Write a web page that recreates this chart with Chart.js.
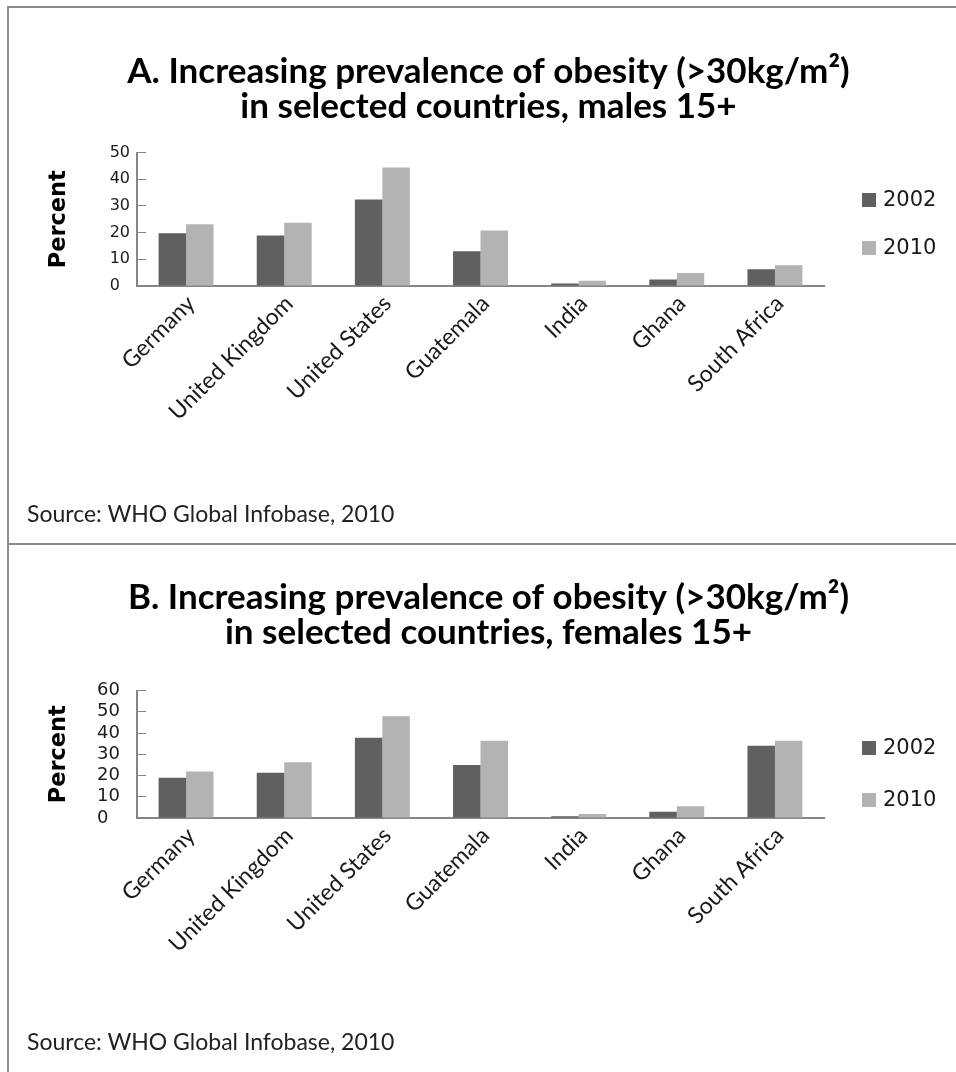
<!DOCTYPE html>
<html>
<head>
<meta charset="utf-8">
<script src="https://cdn.jsdelivr.net/npm/chart.js@4.4.1/dist/chart.umd.min.js"></script>
<style>
  html, body { margin: 0; padding: 0; background: #fff; overflow: hidden; width: 956px; height: 1072px; }
  .panel { position: absolute; left: 7px; width: 962px; border-left: 2px solid #8a8a8a; border-top: 2px solid #8a8a8a; }
  #panelA { top: 6px; height: 535px; }
  #panelB { top: 543px; height: 527px; }
  .panel canvas { position: absolute; left: 0; top: 0; }
  .source { position: absolute; left: 18px; font-family: Lato, sans-serif; font-size: 23px; line-height: 26px; color: #222; white-space: nowrap; }
</style>
</head>
<body>
<div class="panel" id="panelA">
  <canvas id="chartA" width="959" height="535"></canvas>
  <div class="source" style="top:492px">Source: WHO Global Infobase, 2010</div>
</div>
<div class="panel" id="panelB">
  <canvas id="chartB" width="959" height="527"></canvas>
  <div class="source" style="top:483px">Source: WHO Global Infobase, 2010</div>
</div>
<script>
// Obesity prevalence (%), WHO Global Infobase
const countries = ['Germany', 'United Kingdom', 'United States', 'Guatemala', 'India', 'Ghana', 'South Africa'];
const years = ['2002', '2010'];
const males2002 = [19.8, 18.9, 32.4, 13.0, 0.9, 2.4, 6.3];
const males2010 = [23.1, 23.7, 44.4, 20.8, 2.0, 4.9, 7.8];
const females2002 = [18.9, 21.3, 37.8, 24.9, 0.8, 3.0, 34.0];
const females2010 = [21.9, 26.2, 47.9, 36.4, 1.9, 5.5, 36.4];
const malesTicks = [0, 10, 20, 30, 40, 50];
const femalesTicks = [0, 10, 20, 30, 40, 50, 60];
const titleA = ['A. Increasing prevalence of obesity (>30kg/m²)', 'in selected countries, males 15+'];
const titleB = ['B. Increasing prevalence of obesity (>30kg/m²)', 'in selected countries, females 15+'];

const DARK = '#606060';
const LIGHT = '#b3b3b3';
const AXIS = '#868686';

// Legend column on the right: reserves a layout box (so the title stays
// centred on the whole canvas) and draws one square + label per dataset.
const sideLegend = {
  id: 'sideLegend',
  beforeInit(chart, args, opts) {
    const box = {
      position: 'right', weight: 0, fullSize: false, options: {},
      width: 0, height: 0, left: 0, top: 0, right: 0, bottom: 0,
      isHorizontal() { return false; },
      update(maxWidth, maxHeight) { this.width = opts.width; this.height = maxHeight; },
      draw() {}
    };
    Chart.layouts.addBox(chart, box);
  },
  afterDraw(chart, args, opts) {
    const { ctx, chartArea } = chart;
    ctx.save();
    ctx.font = opts.font;
    ctx.textBaseline = 'middle';
    ctx.textAlign = 'left';
    chart.data.datasets.forEach((ds, i) => {
      const cy = chartArea.top + opts.first + i * opts.spacing;
      const x = chartArea.right + opts.gap;
      ctx.fillStyle = ds.backgroundColor;
      ctx.fillRect(x, Math.round(cy - opts.box / 2), opts.box, opts.box);
      ctx.fillStyle = opts.color;
      ctx.fillText(ds.label, x + opts.box + opts.textGap, cy + 1);
    });
    ctx.restore();
  }
};

function makeChart(id, title, s2002, s2010, ticks, cfg) {
  return new Chart(document.getElementById(id), {
    type: 'bar',
    data: {
      labels: countries,
      datasets: [
        { label: years[0], data: s2002, backgroundColor: DARK },
        { label: years[1], data: s2010, backgroundColor: LIGHT }
      ]
    },
    plugins: [sideLegend],
    options: {
      responsive: false,
      animation: false,
      devicePixelRatio: 1,
      layout: { padding: 0 },
      datasets: { bar: { barPercentage: 1.0, categoryPercentage: 0.56 } },
      plugins: {
        legend: { display: false },
        tooltip: { enabled: false },
        title: {
          display: true,
          text: title,
          color: '#000',
          font: { family: 'Lato', weight: 'bold', size: 35, lineHeight: 1.0 },
          padding: { top: cfg.titleTop, bottom: cfg.titleBottom }
        },
        sideLegend: {
          width: 144,
          font: '21px "DejaVu Sans"', color: '#1a1a1a',
          box: 14, gap: 38, textGap: 7,
          first: cfg.legendFirst, spacing: cfg.legendSpacing
        }
      },
      scales: {
        x: {
          grid: { display: true, drawOnChartArea: false, drawTicks: false },
          border: { display: true, color: AXIS, width: 2 },
          ticks: {
            autoSkip: false, minRotation: 45, maxRotation: 45, padding: 4, labelOffset: 5,
            color: '#1a1a1a', font: { family: 'Lato', size: 23 }
          },
          afterFit: s => { s.height = cfg.xHeight; }
        },
        y: {
          min: 0, max: ticks[ticks.length - 1],
          afterBuildTicks: s => { s.ticks = ticks.map(v => ({ value: v })); },
          grid: { drawOnChartArea: false, drawTicks: true, tickLength: -9, color: AXIS, lineWidth: 1 },
          border: { display: true, color: AXIS, width: 2 },
          ticks: {
            autoSkip: false,
            padding: cfg.yTickPad, color: '#1a1a1a',
            font: { family: 'DejaVu Sans', size: cfg.yTickSize },
            callback: v => String(v).padEnd(2, '\u2007')
          },
          title: {
            display: true, text: 'Percent', color: '#000',
            font: { family: 'DejaVu Sans', weight: 'bold', size: 22.5 },
            padding: { top: 37, bottom: 0 }
          },
          afterFit: s => { s.width = 128; }
        }
      }
    }
  });
}

makeChart('chartA', titleA, males2002, males2010, malesTicks, {
  titleTop: 46.5, titleBottom: 28, xHeight: 257,
  yTickPad: 16, yTickSize: 16,
  legendFirst: 47, legendSpacing: 48.5
});
makeChart('chartB', titleB, females2002, females2010, femalesTicks, {
  titleTop: 35.5, titleBottom: 40, xHeight: 254,
  yTickPad: 26, yTickSize: 18,
  legendFirst: 57, legendSpacing: 52
});
</script>
</body>
</html>
